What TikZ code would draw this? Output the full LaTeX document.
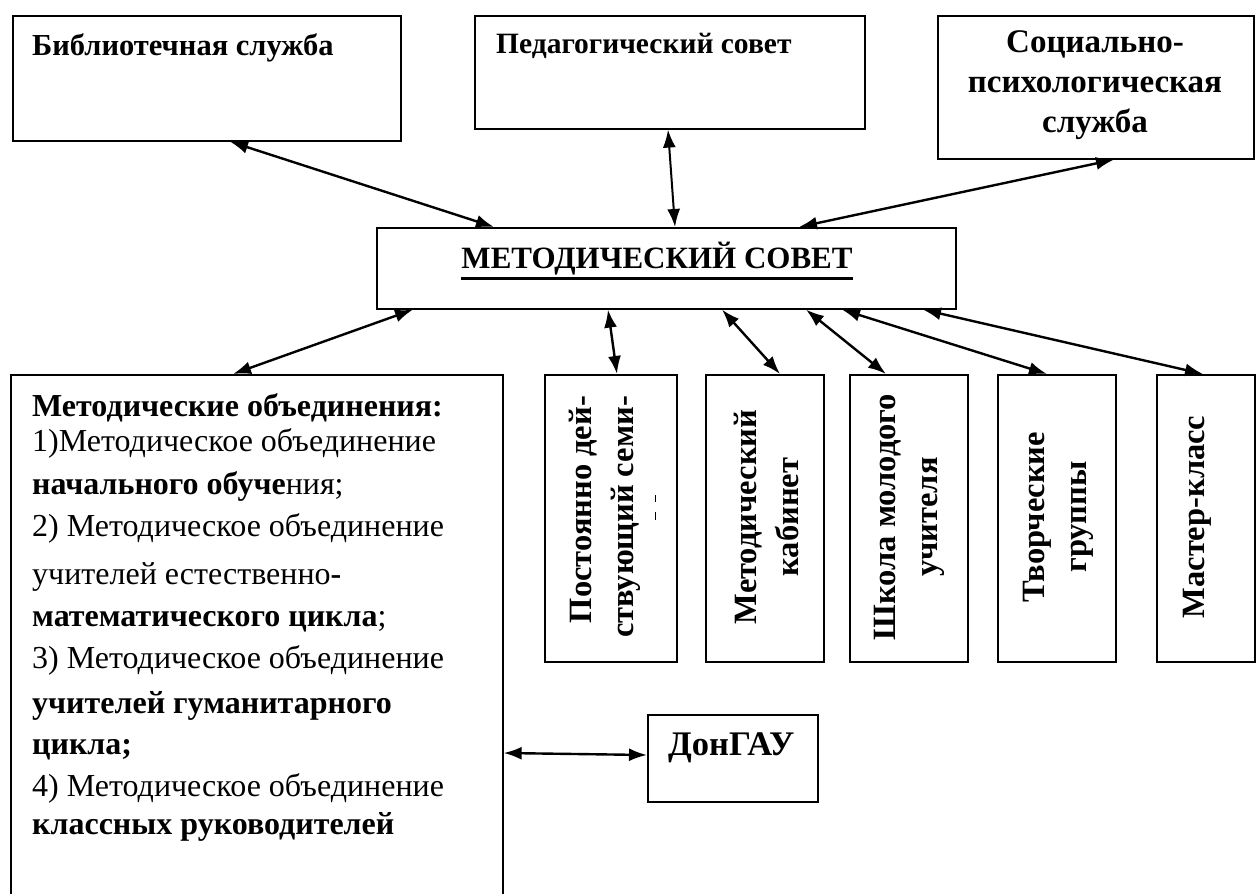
\documentclass[tikz,border=0pt]{standalone}
\usepackage{fontspec}
\setmainfont{Liberation Serif}
\usetikzlibrary{arrows.meta}
\newcommand\myul[1]{\leavevmode\vtop{\hbox{#1}\kern2.5pt\hrule height 3pt}}
\begin{document}
\begin{tikzpicture}[x=1pt,y=-1pt,
  box/.style={draw, line width=1.6pt, inner sep=0pt, anchor=north west},
  arr/.style={line width=2.4pt, {Latex[length=18pt,width=13pt]}-{Latex[length=18pt,width=13pt]}},
  txt/.style={inner sep=0pt, font=\fontsize{30}{39}\selectfont\bfseries},
  vtxt/.style={inner sep=0pt, rotate=90, align=center, font=\fontsize{32.5}{42}\selectfont\bfseries},
]
\useasboundingbox (0,0) rectangle (1256,894);
% boxes
\node[box, minimum width=388pt, minimum height=125pt] (lib) at (12,15) {};
\node[box, minimum width=390pt, minimum height=113pt] (ped) at (474,15) {};
\node[box, minimum width=316pt, minimum height=143pt] (soc) at (937,15) {};
\node[box, minimum width=579pt, minimum height=81pt] (ms) at (376,227) {};
\node[box, minimum width=492pt, minimum height=540pt] (mo) at (10,374) {};
\node[box, minimum width=132pt, minimum height=287pt] (v1) at (544,374) {};
\node[box, minimum width=118pt, minimum height=287pt] (v2) at (705,374) {};
\node[box, minimum width=118pt, minimum height=287pt] (v3) at (849,374) {};
\node[box, minimum width=118pt, minimum height=287pt] (v4) at (997,374) {};
\node[box, minimum width=98pt, minimum height=287pt] (v5) at (1156,374) {};
\node[box, minimum width=170pt, minimum height=87pt] (don) at (647,714) {};
% texts
\node[txt, anchor=base west, font=\fontsize{30.5}{39}\selectfont\bfseries] (libt) at (32,55) {Библиотечная служба};
\node[txt, anchor=base west, font=\fontsize{29.5}{39}\selectfont\bfseries] (pedt) at (496,53) {Педагогический совет};
\node[txt, anchor=north, align=center, font=\fontsize{33}{40}\selectfont\bfseries] (soct) at (1095,30) {Социально-\\психологическая\\служба};
\node[inner sep=0pt, anchor=base, font=\fontsize{31}{40}\selectfont\bfseries] (mst) at (657,268) {\myul{МЕТОДИЧЕСКИЙ СОВЕТ}};
\node[txt, anchor=base west, font=\fontsize{34.5}{40}\selectfont\bfseries] (dont) at (668,755) {ДонГАУ};
\node[inner sep=0pt, anchor=north west, align=left, font=\fontsize{32}{42}\selectfont] (mot) at (32,393)
 {\textbf{Методические объединения:}\\[-7pt]
  1)Методическое объединение\\[1pt]
  \textbf{начального обуче}ния;\\
  2) Методическое объединение\\[6pt]
  учителей естественно\textbf{-}\\
  \textbf{математического цикла};\\
  3) Методическое объединение\\[3pt]
  \textbf{учителей гуманитарного}\\[-1pt]
  \textbf{цикла;}\\
  4) Методическое объединение\\[-4pt]
  \textbf{классных руководителей}};
\node[vtxt, align=right] (v1t) at (605,517) {Постоянно дей-\\ствующий семи-};
\node[vtxt] (v2t) at (766,517) {Методический\\кабинет};
\node[vtxt] (v3t) at (909,517) {Школа молодого\\учителя};
\node[vtxt] (v4t) at (1058,517) {Творческие\\группы};
\node[vtxt] (v5t) at (1197,517) {Мастер-класс};
\draw[line width=0.8pt] (655,495) -- (655,502) (655,512) -- (655,520);
% arrows
\draw[arr] ([xshift=218pt]lib.south west) -- ([xshift=118pt]ms.north west);
\draw[arr, line width=2pt] ([xshift=194pt]ped.south west) -- ([xshift=299pt]ms.north west);
\draw[arr] ([xshift=177pt]soc.south west) -- ([xshift=423pt]ms.north west);
\draw[arr] ([xshift=37pt]ms.south west) -- ([xshift=223pt]mo.north west);
\draw[arr] ([xshift=232pt]ms.south west) -- ([xshift=73pt]v1.north west);
\draw[arr] ([xshift=346pt]ms.south west) -- ([xshift=75pt]v2.north west);
\draw[arr] ([xshift=430pt]ms.south west) -- ([xshift=37pt]v3.north west);
\draw[arr] ([xshift=466pt]ms.south west) -- ([xshift=50pt]v4.north west);
\draw[arr] ([xshift=547pt]ms.south west) -- ([xshift=47pt]v5.north west);
\draw[arr] ([yshift=-379pt]mo.north east) -- ([yshift=-41pt]don.north west);
\end{tikzpicture}
\end{document}
